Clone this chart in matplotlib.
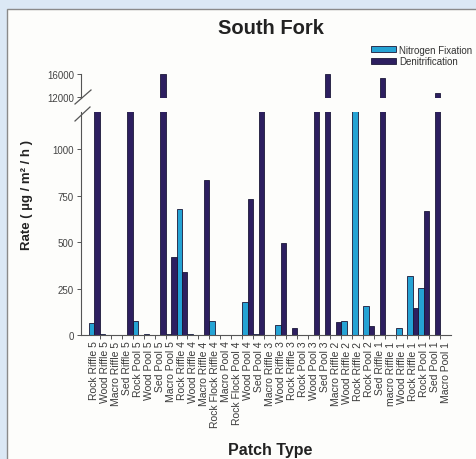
import numpy as np
import matplotlib
matplotlib.use('Agg')
import matplotlib.pyplot as plt
from matplotlib.patches import Patch, Rectangle
from matplotlib.lines import Line2D

plt.rcParams['font.family'] = ['Liberation Sans', 'DejaVu Sans']

# patch types along the reach, upstream (5) to downstream (1)
patches = ['Rock Riffle 5', 'Wood Riffle 5', 'Macro Riffle 5', 'Sed Riffle 5',
           'Rock Pool 5', 'Wood Pool 5', 'Sed Pool 5', 'Macro Pool 5',
           'Rock Riffle 4', 'Wood Riffle 4', 'Macro Riffle 4', 'Rock Flock Riffle 4',
           'Macro Pool 4', 'Rock Flock Pool 4', 'Wood Pool 4', 'Sed Pool 4',
           'Macro Riffle 3', 'Wood Riffle 3', 'Rock Riffle 3', 'Rock Pool 3',
           'Wood Pool 3', 'Sed Pool 3', 'Macro Riffle 2', 'Wood Riffle 2',
           'Rock Riffle 2', 'Rock Pool 2', 'Sed Riffle 1', 'macro Riffle 1',
           'Wood Riffle 1', 'Rock Riffle 1', 'Rock Pool 1', 'Sed Pool 1', 'Macro Pool 1']

# rates in ug / m2 / h
n_fix = [65, 4, 0, 0, 77, 3, 0, 5,
         680, 4, 0, 77, 0, 0, 180, 4,
         0, 55, 0, 0, 0, 0, 0, 75,
         2500, 155, 0, 0, 35, 320, 255, 0, 0]
denit = [3000, 0, 0, 3000, 0, 0, 16000, 420,
         340, 0, 835, 0, 0, 0, 730, 3000,
         0, 495, 38, 0, 3000, 16000, 72, 0,
         0, 50, 15400, 0, 0, 145, 665, 12700, 0]

low_ticks = [0, 250, 500, 750, 1000]
high_ticks = [12000, 16000]

c_fix = '#25a3d4'
c_den = '#2d1f60'
edge = '#1c1838'

W, H = 476, 460
fig = plt.figure(figsize=(W / 100, H / 100), dpi=100, facecolor='#dbe8f5')

# white card behind the chart
fig.add_artist(Rectangle((7 / W, -0.05), 1.1, 1 - 10 / H + 0.05, transform=fig.transFigure,
                         facecolor='#fdfdfb', edgecolor='#8a8a8a', linewidth=1.0, zorder=0))

x = np.arange(len(patches))
w = 0.5

ax_lo = fig.add_axes([81 / W, 1 - 336 / H, 370 / W, 223 / H])
ax_hi = fig.add_axes([81 / W, 1 - 99 / H, 370 / W, 24 / H], sharex=ax_lo)

for ax in (ax_lo, ax_hi):
    ax.bar(x - w / 2, n_fix, w, color=c_fix, edgecolor=edge, linewidth=0.6)
    ax.bar(x + w / 2, denit, w, color=c_den, edgecolor=edge, linewidth=0.6)
    ax.set_facecolor('none')
    for s in ('top', 'right'):
        ax.spines[s].set_visible(False)
    ax.spines['left'].set_color('#555555')
    ax.spines['left'].set_linewidth(0.8)
    ax.tick_params(axis='y', length=3, width=0.7, color='#555555',
                   labelsize=7, labelcolor='#444444', pad=2)

ax_lo.set_ylim(0, 1200)
ax_lo.set_yticks(low_ticks)
ax_hi.set_ylim(11900, 16000)
ax_hi.set_yticks(high_ticks)
ax_hi.spines['bottom'].set_visible(False)
ax_hi.tick_params(axis='x', which='both', bottom=False, labelbottom=False)

ax_lo.set_xlim(-1.2, len(patches) - 0.5)
ax_lo.spines['bottom'].set_color('#555555')
ax_lo.spines['bottom'].set_linewidth(0.8)
ax_lo.set_xticks(x)
ax_lo.set_xticklabels(patches, rotation=90, fontsize=7.5, color='#3a3a3a')
ax_lo.set_xticks(x[:-1] + 0.5, minor=True)
ax_lo.tick_params(axis='x', which='major', length=0, pad=4)
ax_lo.tick_params(axis='x', which='minor', length=3, width=0.7, color='#555555')

# axis break marks on the left spine
for (x0, y0, x1, y1) in [(75, 105, 91, 91), (75, 122, 90, 108)]:
    fig.add_artist(Line2D([x0 / W, x1 / W], [1 - y0 / H, 1 - y1 / H],
                          transform=fig.transFigure, color='#555555', linewidth=0.9))

fig.text(271 / W, 1 - 28 / H, 'South Fork', ha='center', va='center',
         fontsize=14.5, fontweight='bold', color='#222222')
fig.text(27 / W, 1 - 195 / H, 'Rate ( µg / m² / h )', rotation=90, ha='center', va='center',
         fontsize=9.5, fontweight='bold', color='#222222')
fig.text(270 / W, 1 - 451 / H, 'Patch Type', ha='center', va='center',
         fontsize=11.5, fontweight='bold', color='#222222')

handles = [Patch(facecolor=c_fix, edgecolor=edge, linewidth=0.6, label='Nitrogen Fixation'),
           Patch(facecolor=c_den, edgecolor=edge, linewidth=0.6, label='Denitrification')]
fig.legend(handles=handles, loc='upper left', bbox_to_anchor=(366 / W, 1 - 41 / H),
           frameon=False, fontsize=7, handlelength=2.6, handleheight=0.55,
           handletextpad=0.3, labelspacing=0.15, borderpad=0, labelcolor='#333333')

fig.savefig('out.png', dpi=100, facecolor=fig.get_facecolor())
